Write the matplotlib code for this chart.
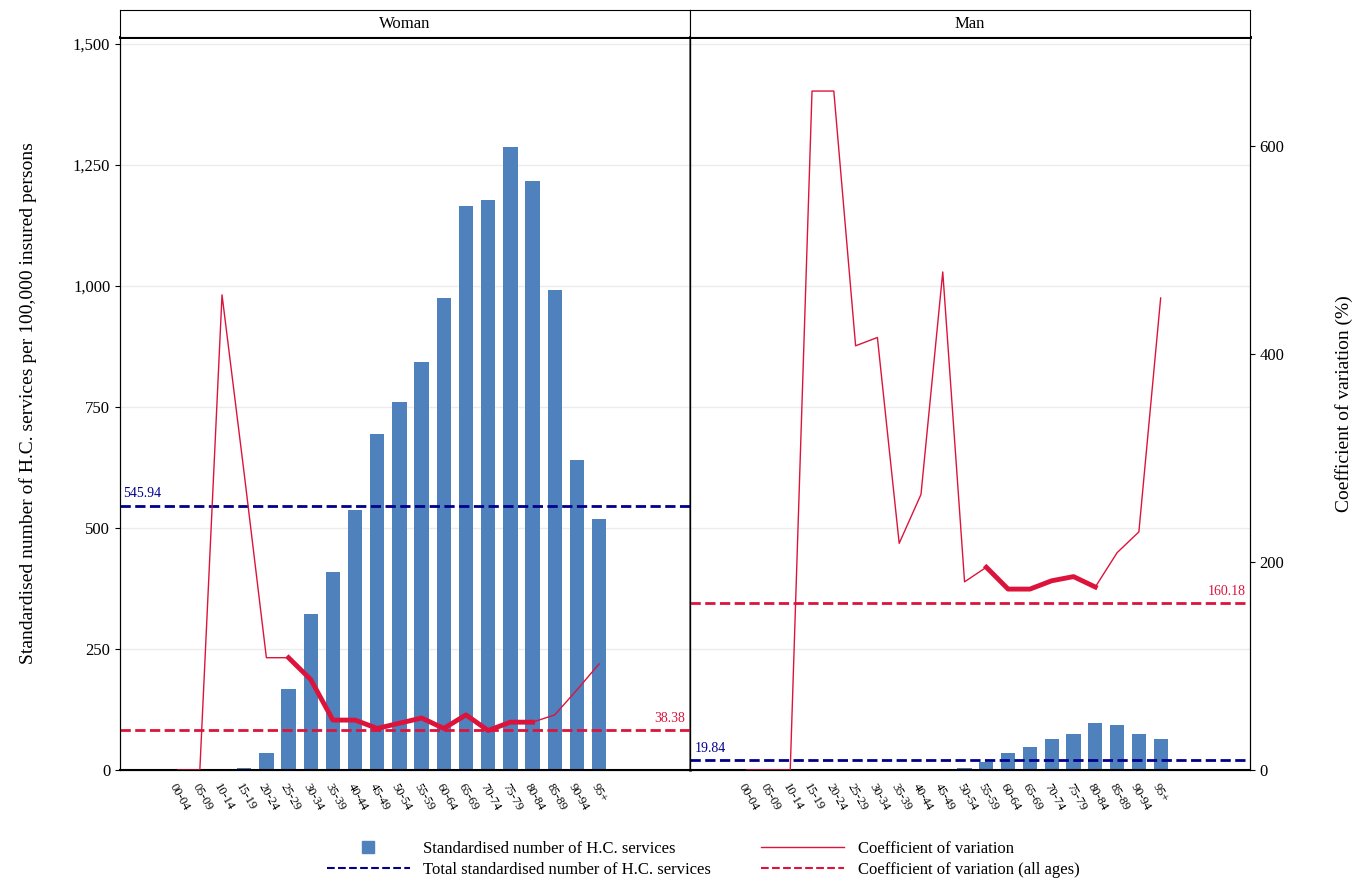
import numpy as np
import matplotlib.pyplot as plt
from matplotlib.lines import Line2D

plt.rcParams['font.family'] = ['Liberation Serif', 'DejaVu Serif']

ages = ['00-04', '05-09', '10-14', '15-19', '20-24', '25-29', '30-34', '35-39', '40-44', '45-49',
        '50-54', '55-59', '60-64', '65-69', '70-74', '75-79', '80-84', '85-89', '90-94', '95+']

woman_rate = [0, 0, 0, 5, 35, 168, 322, 408, 538, 695, 760, 843, 975, 1165, 1178, 1287, 1217, 992, 640, 518]
woman_cv = [0, 0, 457, 285, 108, 108, 87, 48, 48, 40, 45, 50, 40, 53, 38, 46, 46, 53, 77, 102]
man_rate = [0, 0, 0, 0, 0, 0, 0, 0, 0, 1, 4, 16, 35, 47, 65, 74, 97, 92, 74, 65]
man_cv = [0, 0, 0, 653, 653, 408, 416, 218, 265, 479, 181, 195, 174, 174, 182, 186, 176, 209, 229, 454]

panels = ['Woman', 'Man']
total_rate = [545.94, 19.84]
total_cv = [38.38, 160.18]
thick_range = [(5, 16), (11, 16)]

BLUE = '#4f81bd'
NAVY = '#00008b'
RED = '#dc143c'

fig = plt.figure(figsize=(13.52, 8.93), dpi=100)
W, H = 1352, 893
x = np.arange(len(ages))

for p, (rate, cv) in enumerate([(woman_rate, woman_cv), (man_rate, man_cv)]):
    x0 = 120 if p == 0 else 690
    x1 = 690 if p == 0 else 1250
    ax = fig.add_axes([x0 / W, (H - 770) / H, (x1 - x0) / W, (770 - 37) / H])
    ax2 = ax.twinx()
    ax.set_zorder(ax2.get_zorder() - 1)
    ax2.patch.set_visible(False)

    ax.bar(x, rate, width=0.65, color=BLUE, zorder=2)
    ax.set_ylim(0, 1514)
    ax.set_xlim(-2.6, 23.1)
    ax.set_yticks([0, 250, 500, 750, 1000, 1250, 1500])
    for yv in [250, 500, 750, 1000, 1250, 1500]:
        ax.axhline(yv, color='#ececec', lw=1, zorder=0)
    ax.axhline(total_rate[p], color=NAVY, ls='--', lw=2, zorder=3)
    ax.text(-2.45 if p == 0 else -2.4, total_rate[p] + 18, f'{total_rate[p]:.2f}', color=NAVY, fontsize=10)

    ax2.plot(x, cv, color=RED, lw=1)
    a, b = thick_range[p]
    ax2.plot(x[a:b + 1], cv[a:b + 1], color=RED, lw=3.5, solid_joinstyle='round')
    ax2.axhline(total_cv[p], color=RED, ls='--', lw=2)
    ax2.text(22.9, total_cv[p] + 8, f'{total_cv[p]:.2f}', color=RED, fontsize=10, ha='right')
    ax2.set_ylim(0, 705)
    ax2.set_yticks([0, 200, 400, 600])

    ax.set_xticks(x)
    ax.set_xticklabels(ages, rotation=-60, ha='left', rotation_mode='anchor', fontsize=9)
    ax.tick_params(axis='x', length=0, pad=8)

    if p == 0:
        ax.tick_params(axis='y', labelsize=12)
        ax.set_yticklabels(['0', '250', '500', '750', '1,000', '1,250', '1,500'])
        ax.set_ylabel('Standardised number of H.C. services per 100,000 insured persons', fontsize=14,
                      labelpad=26)
        ax2.set_yticks([])
        ax.spines['right'].set_color('#777777')
        ax.spines['right'].set_linewidth(2)
    else:
        ax.set_yticks([])
        ax2.tick_params(axis='y', labelsize=12)
        ax2.set_ylabel('Coefficient of variation (%)', fontsize=14, labelpad=36)
    ax.spines['top'].set_linewidth(2)
    ax2.spines['top'].set_linewidth(2)
    ax.spines['bottom'].set_linewidth(1.5)

    hax = fig.add_axes([x0 / W, (H - 37) / H, (x1 - x0) / W, 27 / H])
    hax.set_xticks([])
    hax.set_yticks([])
    hax.text(0.5, 0.5, panels[p], ha='center', va='center', fontsize=12, transform=hax.transAxes)

handles = [Line2D([], [], color=BLUE, marker='s', ls='none', markersize=8),
           Line2D([], [], color=NAVY, ls='--', lw=1.5),
           Line2D([], [], color=RED, lw=1), Line2D([], [], color=RED, ls='--', lw=1.5)]
labels = ['Standardised number of H.C. services', 'Total standardised number of H.C. services',
          'Coefficient of variation', 'Coefficient of variation (all ages)']
fig.legend(handles, labels, ncol=2, loc='lower center', bbox_to_anchor=(0.52, 0.0),
           frameon=False, fontsize=12, columnspacing=3, handlelength=5, labelspacing=0.3)

fig.savefig('out.png', dpi=100)
